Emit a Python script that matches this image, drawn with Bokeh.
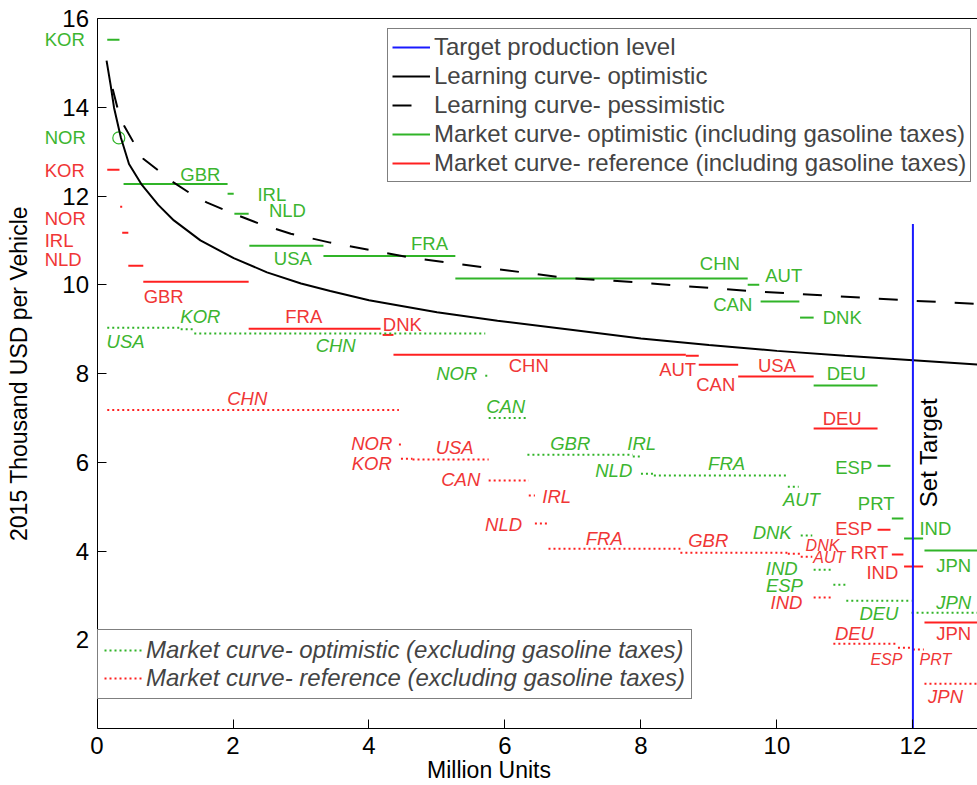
from bokeh.plotting import figure
from bokeh.models import Range1d, FixedTicker, LinearAxis, Legend, LegendItem, Label
from bokeh.embed import file_html
from bokeh.resources import INLINE

FONT = "Liberation Sans"
GREEN_LINE = "#30b428"
GREEN_TEXT = "#3cb530"
RED_LINE = "#ff2020"
RED_TEXT = "#f03636"
BLUE = "#1a1aff"

# ---------------------------------------------------------------- data
# Learning curves: cumulative production (million units) vs cost (thousand USD)
learn_opt_x = [0.14, 0.2, 0.25, 0.35, 0.47, 0.66, 0.9, 1.13, 1.52, 2.01, 2.5, 3.0,
               3.43, 4.0, 5.0, 5.89, 7.0, 8.0, 9.0, 10.0, 11.0, 12.0, 12.95]
learn_opt_y = [15.05, 14.5, 13.99, 13.32, 12.72, 12.25, 11.8, 11.45, 11.0, 10.6, 10.28, 10.03,
               9.86, 9.65, 9.38, 9.19, 8.98, 8.79, 8.64, 8.51, 8.4, 8.3, 8.2]

learn_pes_x = [0.23, 0.3, 0.4, 0.54, 0.68, 1.13, 1.38, 1.62, 2.01, 2.4, 2.85, 3.43,
               4.61, 5.15, 6.86, 7.99, 9.57, 12.0, 12.95]
learn_pes_y = [14.41, 13.99, 13.58, 13.2, 12.84, 12.3, 12.05, 11.85, 11.6, 11.37, 11.15, 10.95,
               10.61, 10.5, 10.16, 10.05, 9.86, 9.64, 9.57]

# Target production level
target_x = 12.0
target_top = 11.37

# Market curve - optimistic (including gasoline taxes)
opt_inc_country = ["KOR", "GBR", "IRL", "NLD", "USA", "FRA", "CHN", "AUT", "CAN", "DNK",
                   "DEU", "ESP", "PRT", "IND", "JPN"]
opt_inc_start = [0.15, 0.39, 1.92, 2.02, 2.24, 3.33, 5.27, 9.57, 9.76, 10.34,
                 10.54, 11.48, 11.69, 11.87, 12.17]
opt_inc_end = [0.33, 1.92, 2.01, 2.23, 3.33, 5.27, 9.57, 9.74, 10.33, 10.54,
               11.48, 11.67, 11.86, 12.15, 13.2]
opt_inc_price = [15.52, 12.27, 12.05, 11.6, 10.88, 10.65, 10.14, 10.0, 9.62, 9.26,
                 7.73, 5.92, 4.73, 4.28, 4.01]
opt_inc_nor_x = [0.32]
opt_inc_nor_price = [13.31]

# Market curve - reference (including gasoline taxes)
ref_inc_country = ["KOR", "NOR", "IRL", "NLD", "GBR", "FRA", "DNK", "CHN", "AUT", "CAN",
                   "USA", "DEU", "ESP", "PRT", "IND", "JPN"]
ref_inc_start = [0.15, 0.34, 0.37, 0.46, 0.68, 2.23, 4.2, 4.36, 8.66, 8.85,
                 9.43, 10.54, 11.48, 11.69, 11.87, 12.17]
ref_inc_end = [0.33, 0.37, 0.46, 0.68, 2.23, 4.17, 4.36, 8.66, 8.85, 9.43,
               10.54, 11.48, 11.67, 11.86, 12.15, 13.2]
ref_inc_price = [12.59, 11.76, 11.17, 10.43, 10.07, 9.01, 8.87, 8.42, 8.4, 8.2,
                 7.93, 6.76, 4.48, 3.92, 3.65, 2.39]

# Market curve - optimistic (excluding gasoline taxes)
opt_exc_country = ["USA", "KOR", "CHN", "NOR", "CAN", "GBR", "IRL", "NLD", "FRA", "AUT",
                   "DNK", "IND", "ESP", "DEU", "JPN"]
opt_exc_start = [0.15, 1.23, 1.43, 5.71, 5.76, 6.33, 7.88, 8.0, 8.19, 10.16,
                 10.35, 10.54, 10.83, 11.02, 11.98]
opt_exc_end = [1.23, 1.42, 5.71, 5.76, 6.33, 7.88, 8.0, 8.19, 10.16, 10.32,
               10.52, 10.83, 11.01, 11.98, 13.2]
opt_exc_price = [9.03, 9.0, 8.9, 7.95, 7.0, 6.17, 6.13, 5.74, 5.7, 5.45,
                 4.35, 3.58, 3.24, 2.88, 2.61]

# Market curve - reference (excluding gasoline taxes)
ref_exc_country = ["CHN", "NOR", "KOR", "USA", "CAN", "IRL", "NLD", "FRA", "GBR", "DNK",
                   "AUT", "IND", "DEU", "ESP", "PRT", "JPN"]
ref_exc_start = [0.15, 4.44, 4.47, 4.64, 5.76, 6.35, 6.44, 6.64, 8.58, 10.16,
                 10.35, 10.54, 10.83, 11.78, 12.0, 12.17]
ref_exc_end = [4.44, 4.47, 4.64, 5.76, 6.35, 6.44, 6.62, 8.58, 10.16, 10.35,
               10.52, 10.83, 11.78, 12.0, 12.16, 13.2]
ref_exc_price = [7.18, 6.4, 6.08, 6.06, 5.59, 5.25, 4.62, 4.05, 3.96, 3.94,
                 3.87, 2.95, 1.91, 1.82, 1.78, 1.01]

# Country annotations (text, x, y)
opt_inc_lbl = ["GBR", "IRL", "NLD", "USA", "FRA", "CHN", "AUT", "CAN", "DNK", "DEU",
               "ESP", "PRT", "IND", "JPN"]
opt_inc_lbl_x = [1.52, 2.57, 2.8, 2.88, 4.89, 9.16, 10.1, 9.35, 10.96, 11.02,
                 11.13, 11.46, 12.33, 12.6]
opt_inc_lbl_y = [12.48, 12.03, 11.67, 10.59, 10.92, 10.47, 10.2, 9.55, 9.26, 8.0,
                 5.88, 5.07, 4.5, 3.67]

ref_inc_lbl = ["GBR", "FRA", "DNK", "CHN", "AUT", "CAN", "USA", "DEU", "ESP", "RRT",
               "IND", "JPN"]
ref_inc_lbl_x = [0.98, 3.04, 4.49, 6.35, 8.54, 9.1, 10.0, 10.96, 11.13, 11.36,
                 11.55, 12.6]
ref_inc_lbl_y = [9.73, 9.28, 9.1, 8.18, 8.09, 7.75, 8.18, 6.98, 4.5, 3.96,
                 3.51, 2.14]

# names written left of the price axis, next to the first steps
margin_lbl = ["KOR", "NOR", "KOR", "NOR", "IRL", "NLD"]
margin_lbl_green = [True, True, False, False, False, False]
margin_lbl_x = -0.77
margin_lbl_y = [15.52, 13.31, 12.57, 11.49, 10.99, 10.56]

opt_exc_lbl = ["USA", "KOR", "CHN", "NOR", "CAN", "GBR", "IRL", "NLD", "FRA", "AUT",
               "DNK", "IND", "ESP", "DEU", "JPN"]
opt_exc_lbl_x = [0.42, 1.52, 3.51, 5.29, 6.01, 6.96, 8.01, 7.6, 9.26, 10.36,
                 9.93, 10.07, 10.11, 11.5, 12.6]
opt_exc_lbl_y = [8.72, 9.28, 8.63, 8.0, 7.25, 6.42, 6.42, 5.81, 5.97, 5.16,
                 4.41, 3.6, 3.22, 2.59, 2.84]

ref_exc_lbl = ["CHN", "NOR", "KOR", "USA", "CAN", "IRL", "NLD", "FRA", "GBR", "IND",
               "DEU", "JPN"]
ref_exc_lbl_x = [2.21, 4.04, 4.04, 5.26, 5.35, 6.76, 5.98, 7.46, 8.99, 10.14,
                 11.14, 12.48]
ref_exc_lbl_y = [7.43, 6.42, 5.97, 6.33, 5.61, 5.23, 4.59, 4.28, 4.23, 2.84,
                 2.14, 0.72]

ref_exc_small_lbl = ["DNK", "AUT", "ESP", "PRT"]
ref_exc_small_lbl_x = [10.67, 10.77, 11.61, 12.33]
ref_exc_small_lbl_y = [4.12, 3.85, 1.55, 1.55]

x_ticks = [0, 2, 4, 6, 8, 10, 12]
y_ticks = [2, 4, 6, 8, 10, 12, 14, 16]
x_axis_end = 12.95
y_axis_top = 16

# ---------------------------------------------------------------- figure
# the frame covers the whole canvas so that names left of the price axis
# (drawn at x = 0) and the top tick label stay visible
p = figure(width=977, height=785, output_backend="svg", toolbar_location=None,
           x_range=Range1d(-1.42, x_axis_end), y_range=Range1d(0, 16.406),
           min_border_left=0, min_border_right=0, min_border_top=0, min_border_bottom=57)
p.outline_line_color = None
p.grid.visible = False
p.background_fill_color = "white"

for ax in (p.xaxis[0], p.yaxis[0]):
    ax.axis_line_color = "black"
    ax.major_tick_in = 9
    ax.major_tick_out = 0
    ax.minor_tick_line_color = None
    ax.major_label_text_font = FONT
    ax.major_label_text_font_size = "24px"
    ax.major_label_text_color = "black"
    ax.axis_label_text_font = FONT
    ax.axis_label_text_font_size = "23px"
    ax.axis_label_text_font_style = "normal"
    ax.axis_label_text_color = "black"

p.xaxis.ticker = FixedTicker(ticks=x_ticks)
p.xaxis.bounds = (0, x_axis_end)
p.yaxis.ticker = FixedTicker(ticks=y_ticks)
p.yaxis.fixed_location = 0
p.yaxis.bounds = (0, y_axis_top)
p.xaxis.axis_label = "Million Units"
p.yaxis.axis_label = "2015 Thousand USD per Vehicle"
p.xaxis.major_label_standoff = 8
p.xaxis.axis_label_standoff = 0
p.yaxis.major_label_standoff = 8
p.yaxis.axis_label_standoff = 28

top_axis = LinearAxis(ticker=FixedTicker(ticks=[]), axis_line_color="black",
                      major_tick_line_color=None, minor_tick_line_color=None,
                      bounds=(0, x_axis_end), fixed_location=y_axis_top)
p.add_layout(top_axis, "above")

# market steps
r_opt_inc = p.segment(opt_inc_start, opt_inc_price, opt_inc_end, opt_inc_price,
                      line_color=GREEN_LINE, line_width=2)
p.scatter(opt_inc_nor_x, opt_inc_nor_price, marker="circle", size=12,
          fill_color=None, line_color=GREEN_LINE, line_width=1.2)
r_ref_inc = p.segment(ref_inc_start, ref_inc_price, ref_inc_end, ref_inc_price,
                      line_color=RED_LINE, line_width=2)
r_opt_exc = p.segment(opt_exc_start, opt_exc_price, opt_exc_end, opt_exc_price,
                      line_color=GREEN_LINE, line_width=2, line_dash="2 3")
r_ref_exc = p.segment(ref_exc_start, ref_exc_price, ref_exc_end, ref_exc_price,
                      line_color=RED_LINE, line_width=2, line_dash="2 3")

# learning curves
r_opt = p.line(learn_opt_x, learn_opt_y, line_color="black", line_width=2)
r_pes = p.line(learn_pes_x, learn_pes_y, line_color="black", line_width=2,
               line_dash="19 19")

# target
r_target = p.segment([target_x], [0], [target_x], [target_top],
                     line_color=BLUE, line_width=2)
p.add_layout(Label(x=target_x + 0.23, y=6.22, text="Set Target", angle=1.5708,
                   text_align="center", text_baseline="middle", text_font=FONT,
                   text_font_size="24px", text_color="black"))


def add_labels(texts, xs, ys, color, size="18.5px", style="normal", align="center"):
    for t, x, y in zip(texts, xs, ys):
        p.add_layout(Label(x=x, y=y, text=t, text_align=align, text_baseline="middle",
                           text_font=FONT, text_font_size=size, text_font_style=style,
                           text_color=color))


add_labels(opt_inc_lbl, opt_inc_lbl_x, opt_inc_lbl_y, GREEN_TEXT)
add_labels(ref_inc_lbl, ref_inc_lbl_x, ref_inc_lbl_y, RED_TEXT)
add_labels(opt_exc_lbl, opt_exc_lbl_x, opt_exc_lbl_y, GREEN_TEXT, style="italic")
add_labels(ref_exc_lbl, ref_exc_lbl_x, ref_exc_lbl_y, RED_TEXT, style="italic")
add_labels(ref_exc_small_lbl, ref_exc_small_lbl_x, ref_exc_small_lbl_y, RED_TEXT,
           size="16px", style="italic")
for t, g, y in zip(margin_lbl, margin_lbl_green, margin_lbl_y):
    add_labels([t], [margin_lbl_x], [y], GREEN_TEXT if g else RED_TEXT, align="left")

# legends
legend_style = dict(border_line_color="black", border_line_width=1, background_fill_alpha=1,
                    margin=0, glyph_width=38, glyph_height=26, label_height=26,
                    label_standoff=4, label_text_font=FONT, label_text_font_size="24px")

top_legend = Legend(items=[
    LegendItem(label="Target production level", renderers=[r_target]),
    LegendItem(label="Learning curve- optimistic", renderers=[r_opt]),
    LegendItem(label="Learning curve- pessimistic", renderers=[r_pes]),
    LegendItem(label="Market curve- optimistic (including gasoline taxes)", renderers=[r_opt_inc]),
    LegendItem(label="Market curve- reference (including gasoline taxes)", renderers=[r_ref_inc]),
], location=(387, 546), padding=4, spacing=1, **legend_style)

bottom_legend = Legend(items=[
    LegendItem(label="Market curve- optimistic (excluding gasoline taxes)", renderers=[r_opt_exc]),
    LegendItem(label="Market curve- reference (excluding gasoline taxes)", renderers=[r_ref_exc]),
], location=(97, 29), padding=6, spacing=0, label_text_font_style="italic", **legend_style)

p.add_layout(top_legend, "center")
p.add_layout(bottom_legend, "center")

open("out.html", "w").write(file_html(p, INLINE))
